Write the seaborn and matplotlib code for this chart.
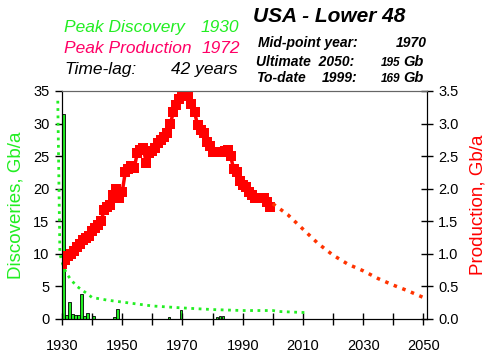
import matplotlib as mpl
mpl.use('Agg')
import matplotlib.pyplot as plt
import seaborn as sns

# discoveries (Gb/a), left axis
disc_years = [1930, 1931, 1932, 1933, 1934, 1935, 1936, 1937, 1938, 1940,
              1947, 1948, 1965, 1969, 1981, 1982, 1983]
disc_vals = [31.5, 0.6, 2.6, 0.7, 0.6, 0.6, 3.8, 0.4, 0.9, 0.5,
             0.3, 1.6, 0.3, 1.4, 0.3, 0.5, 0.5]

# smoothed discovery trend (green dotted)
trend_years = [1928.6, 1929.0, 1929.3, 1930.5, 1931.5, 1933, 1935, 1938, 1940,
               1945, 1950, 1955, 1960, 1970, 1980, 1990, 2000, 2002, 2010, 2012]
trend_vals = [33.5, 20.0, 10.0, 8.0, 7.0, 6.0, 5.0, 4.0, 3.3,
              2.9, 2.6, 2.3, 2.0, 1.7, 1.45, 1.3, 1.3, 1.15, 1.0, 1.0]

# production (Gb/a), right axis
prod_years = list(range(1930, 2000))
prod_vals = [0.85, 0.90, 0.96, 1.00, 1.05, 1.10, 1.15, 1.22, 1.25, 1.28,
             1.35, 1.40, 1.45, 1.50, 1.68, 1.72, 1.75, 1.90, 2.00, 1.85,
             1.95, 2.25, 2.30, 2.35, 2.32, 2.55, 2.60, 2.62, 2.40, 2.55,
             2.58, 2.62, 2.70, 2.75, 2.80, 2.85, 3.00, 3.18, 3.28, 3.38,
             3.45, 3.46, 3.42, 3.30, 3.18, 2.98, 2.90, 2.85, 2.72, 2.65,
             2.57, 2.57, 2.56, 2.57, 2.58, 2.60, 2.50, 2.30, 2.25, 2.12,
             2.05, 2.02, 1.95, 1.90, 1.85, 1.86, 1.85, 1.85, 1.80, 1.72]

# forecast production
fc_years = [2000, 2005, 2010, 2015, 2020, 2025, 2030, 2035, 2040, 2045, 2050]
fc_vals = [1.77, 1.60, 1.38, 1.16, 0.98, 0.84, 0.74, 0.62, 0.52, 0.43, 0.33]

xticks = list(range(1930, 2051, 10))
xlabels = [str(y) if (y - 1930) % 20 == 0 else '' for y in xticks]

plt.rcParams['font.family'] = ['Liberation Sans', 'DejaVu Sans']

W, H = 492, 356
fig = plt.figure(figsize=(W / 100, H / 100), dpi=100)
ax = fig.add_axes([62 / W, 1 - 319 / H, 365 / W, 228 / H])
ax2 = ax.twinx()

# bars sit just right of their year, as in the original
bar_x = [y + 0.45 for y in disc_years]
sns.barplot(x=bar_x, y=disc_vals, native_scale=True, width=0.8,
            color='#22ee22', saturation=1, edgecolor='black', linewidth=0.6,
            errorbar=None, ax=ax)
sns.lineplot(x=trend_years, y=trend_vals, ax=ax, color='#22ee22',
             linestyle=':', linewidth=2, clip_on=False)

sns.lineplot(x=prod_years, y=prod_vals, ax=ax2, color='red', marker='s',
             markersize=7.5, markeredgewidth=0, linewidth=2.5)
sns.lineplot(x=fc_years, y=fc_vals, ax=ax2, color='#ff3300',
             linestyle=':', linewidth=2.5)

ax.set_xlim(1930, 2051.2)
ax.set_ylim(0, 35)
ax2.set_ylim(0, 3.5)
ax.set_xticks(xticks)
ax.set_xticklabels(xlabels)
ax.set_yticks(range(0, 36, 5))
ax2.set_yticks([i * 0.5 for i in range(8)])
ax2.set_yticklabels(['%.1f' % (i * 0.5) for i in range(8)])

for a in (ax, ax2):
    a.spines['top'].set_color('#666666')
    a.spines['left'].set_color('black')
    a.spines['right'].set_color('black')
    a.spines['bottom'].set_color('black')
    a.set_xlabel('')

ax.tick_params(axis='x', direction='inout', length=9, width=1, labelsize=10.5, pad=10)
ax.tick_params(axis='y', direction='out', length=5, width=1, labelsize=10.5, pad=4)
ax2.tick_params(axis='y', direction='inout', length=8, width=1, labelsize=10.5, pad=4)

ax.set_ylabel('Discoveries, Gb/a', color='#22ee22', fontsize=13.5, labelpad=6)
ax2.set_ylabel('Production, Gb/a', color='red', fontsize=13.5, labelpad=8)


def ftext(x, y, s, **kw):
    fig.text(x / W, 1 - y / H, s, va='baseline', **kw)


ftext(64, 32, 'Peak Discovery', color='#22ee22', style='italic', fontsize=12.5)
ftext(239, 32, '1930', color='#22ee22', style='italic', fontsize=12.5, ha='right')
ftext(64, 53, 'Peak Production', color='#ff0066', style='italic', fontsize=12.5)
ftext(240, 53, '1972', color='#ff0066', style='italic', fontsize=12.5, ha='right')
ftext(64, 74, 'Time-lag:', color='black', style='italic', fontsize=12.5)
ftext(238, 74, '42 years', color='black', style='italic', fontsize=12.5, ha='right')

ftext(253, 22, 'USA - Lower 48', style='italic', weight='bold', fontsize=15)
ftext(258, 47, 'Mid-point year:', style='italic', weight='bold', fontsize=10)
ftext(427, 47, '1970', style='italic', weight='bold', fontsize=10, ha='right')
ftext(256, 65.5, 'Ultimate  2050:', style='italic', weight='bold', fontsize=10)
ftext(400, 65.5, '195', style='italic', weight='bold', fontsize=8.5, ha='right')
ftext(403, 65.5, 'Gb', style='italic', weight='bold', fontsize=10.5)
ftext(256, 81.5, 'To-date', style='italic', weight='bold', fontsize=10)
ftext(322, 81.5, '1999:', style='italic', weight='bold', fontsize=10)
ftext(400, 81.5, '169', style='italic', weight='bold', fontsize=8.5, ha='right')
ftext(403, 81.5, 'Gb', style='italic', weight='bold', fontsize=10.5)

fig.savefig('out.png', dpi=100)
